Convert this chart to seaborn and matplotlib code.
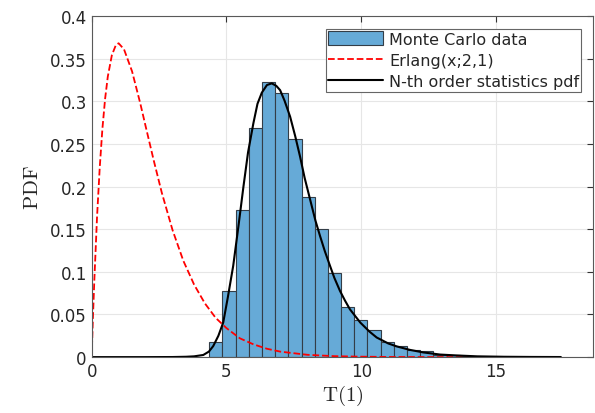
import matplotlib
matplotlib.use("Agg")
import matplotlib.pyplot as plt
import numpy as np
import pandas as pd
import seaborn as sns

# istogramma Monte Carlo (bordi dei bin e altezze)
bin_start = 4.36
bin_width = 0.489
mc_heights = [0.018, 0.0776, 0.172, 0.269, 0.322, 0.310, 0.256, 0.1875, 0.150,
              0.099, 0.059, 0.0437, 0.0316, 0.018, 0.0135, 0.0078, 0.0066,
              0.0027, 0.0023, 0.0008]

# Erlang(x;2,1)
erl_x = [0, 0.05, 0.1, 0.2, 0.3, 0.4, 0.5, 0.6, 0.75, 0.9, 1.0, 1.2, 1.5, 1.8,
         2.0, 2.3, 2.6, 3.0, 3.4, 3.8, 4.2, 4.6, 5.0, 5.5, 6.0, 6.5, 7.0, 8.0,
         9.0, 10.0, 11.0, 12.0, 13.0, 14.0]
erl_y = [0, 0.048, 0.090, 0.164, 0.222, 0.268, 0.303, 0.329, 0.354, 0.366,
         0.368, 0.361, 0.335, 0.298, 0.271, 0.231, 0.193, 0.149, 0.113, 0.085,
         0.063, 0.046, 0.034, 0.022, 0.015, 0.0098, 0.0064, 0.0027, 0.0011,
         0.0005, 0.0002, 0.0001, 0.0, 0.0]

# pdf della statistica d'ordine N-esima
ord_x = [0, 1.0, 2.0, 3.0, 3.5, 3.8, 4.14, 4.35, 4.51, 4.7, 4.88, 5.05, 5.25,
         5.45, 5.63, 5.8, 6.0, 6.15, 6.31, 6.5, 6.68, 6.85, 6.99, 7.15, 7.36,
         7.55, 7.73, 7.9, 8.1, 8.3, 8.47, 8.65, 8.84, 9.0, 9.21, 9.4, 9.58,
         9.96, 10.3, 10.57, 11.0, 11.32, 11.8, 12.3, 12.92, 13.5, 14.3, 15.3,
         16.3, 17.4]
ord_y = [0, 0, 0, 0.0001, 0.0004, 0.0009, 0.0025, 0.0065, 0.013, 0.025, 0.0406,
         0.07, 0.107, 0.155, 0.200, 0.240, 0.2745, 0.297, 0.31, 0.319, 0.321,
         0.318, 0.313, 0.301, 0.282, 0.259, 0.235, 0.21, 0.185, 0.16, 0.142,
         0.124, 0.107, 0.093, 0.0776, 0.066, 0.056, 0.0406, 0.030, 0.023,
         0.016, 0.0125, 0.0085, 0.0055, 0.003, 0.002, 0.0009, 0.0004, 0.0002,
         0.0001]

edges = bin_start + bin_width * np.arange(len(mc_heights) + 1)
centers = (edges[:-1] + edges[1:]) / 2
df_mc = pd.DataFrame({"T": centers, "h": mc_heights})

sns.set_style("white")
plt.rcParams['font.family'] = ['DejaVu Sans']
plt.rcParams['mathtext.fontset'] = 'cm'

fig = plt.figure(figsize=(5.95, 4.14), dpi=100)
ax = fig.add_axes([0.154, 0.135, 0.843, 0.824])

sns.histplot(data=df_mc, x="T", weights="h", bins=list(edges), stat="count",
             color=(0.40, 0.668, 0.845), alpha=1.0, edgecolor=(0.2, 0.24, 0.28),
             linewidth=0.8, label="Monte Carlo data", ax=ax)
sns.lineplot(x=erl_x, y=erl_y, color="red", linestyle="--", linewidth=1.3,
             sort=False, estimator=None, label="Erlang(x;2,1)", ax=ax)
sns.lineplot(x=ord_x, y=ord_y, color="black", linewidth=1.5,
             sort=False, estimator=None, label="N-th order statistics pdf", ax=ax)

ax.set_xlim(0, 18.6)
ax.set_ylim(0, 0.4)
ax.set_xticks([0, 5, 10, 15])
yt = [0, 0.05, 0.1, 0.15, 0.2, 0.25, 0.3, 0.35, 0.4]
ax.set_yticks(yt)
ax.set_yticklabels(["0", "0.05", "0.1", "0.15", "0.2", "0.25", "0.3", "0.35", "0.4"])
ax.tick_params(direction="in", top=True, right=True, labelsize=12, length=4,
               color=(0.2, 0.2, 0.2))
ax.grid(True, color=(0.9, 0.9, 0.9), linewidth=0.8)
ax.set_axisbelow(True)
for s in ax.spines.values():
    s.set_color((0.35, 0.35, 0.35))
    s.set_linewidth(0.8)

ax.set_xlabel(r"$\mathrm{T(1)}$", fontsize=15, labelpad=2)
ax.set_ylabel(r"$\mathrm{PDF}$", fontsize=15, labelpad=6)

handles, labels = ax.get_legend_handles_labels()
order = [labels.index("Monte Carlo data"), labels.index("Erlang(x;2,1)"),
         labels.index("N-th order statistics pdf")]
leg = ax.legend([handles[i] for i in order], [labels[i] for i in order],
                loc="upper right", bbox_to_anchor=(0.983, 0.972), fontsize=11.5,
                handlelength=3.4, handleheight=1.0, fancybox=False, framealpha=1,
                borderpad=0.15, labelspacing=0.35, handletextpad=0.4,
                borderaxespad=0.2)
leg.get_frame().set_edgecolor((0.4, 0.4, 0.4))
leg.get_frame().set_linewidth(0.8)

fig.savefig("out.png", dpi=100)
